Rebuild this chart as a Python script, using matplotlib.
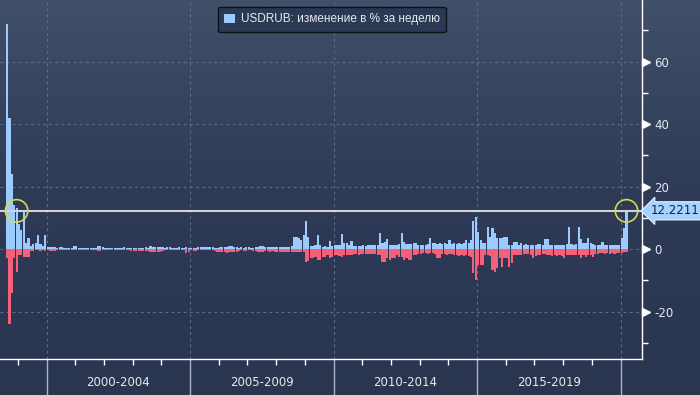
import numpy as np
import matplotlib
matplotlib.use("Agg")
import matplotlib.pyplot as plt
from matplotlib.patches import Patch
from matplotlib.ticker import FixedLocator
import matplotlib.transforms as mtrans
from matplotlib.colors import LinearSegmentedColormap

# ---------------- data (monthly bins, Aug 1998 .. Mar 2020) ----------------
pos_1998_1999 = [72, 42, 24, 14, 13, 8, 6, 12.5, 2, 3.5, 1, 1.5, 2, 4.5, 1.5, 1, 4.5]
neg_1998_1999 = [-3, -24, -14, -3, -7.5, -2, -2, -2.5, -2.5, -2.5, -0.5, -0.5, -0.4, -0.4, -0.5, -0.4, -0.5]

pos_2000_2004 = [0.6, 0.6, 0.5, 0.5, 0.4, 0.5, 0.5, 0.3, 0.4, 0.3, 0.4, 1.0,
                 1.0, 0.4, 0.3, 0.4, 0.3, 0.3, 0.3, 0.4, 0.4, 1.0, 1.0, 0.6,
                 0.3, 0.3, 0.2, 0.3, 0.2, 0.3, 0.3, 0.4, 0.5, 0.4, 0.3, 0.3,
                 0.3, 0.2, 0.3, 0.3, 0.4, 0.5, 0.4, 0.9, 0.8, 0.6, 0.5, 0.6,
                 0.5, 0.4, 0.6, 0.8, 0.4, 0.4, 0.3, 0.5, 0.4, 0.4, 0.5, 0.4]
neg_2000_2004 = [-0.4, -0.6, -0.6, -0.5, -0.3, -0.3, -0.3, -0.4, -0.3, -0.3, -0.2, -0.3,
                 -0.2, -0.2, -0.3, -0.2, -0.2, -0.2, -0.3, -0.2, -0.3, -0.5, -0.5, -0.3,
                 -0.2, -0.2, -0.2, -0.1, -0.2, -0.2, -0.2, -0.2, -0.2, -0.3, -0.3, -0.6,
                 -0.6, -0.5, -0.6, -0.6, -0.5, -0.6, -0.5, -0.9, -0.9, -0.9, -0.8, -0.9,
                 -0.5, -0.3, -0.3, -0.3, -0.3, -0.3, -0.2, -0.3, -0.3, -0.4, -1.2, -0.8]

pos_2005_2009 = [0.4, 0.3, 0.4, 0.6, 0.8, 0.7, 0.5, 0.7, 0.6, 0.5, 0.4, 0.4,
                 0.5, 0.6, 0.5, 0.6, 0.9, 1.0, 0.6, 0.5, 0.4, 0.5, 0.4, 0.7,
                 0.7, 0.4, 0.4, 0.5, 0.5, 1.0, 1.1, 0.7, 0.8, 0.7, 0.8, 0.6,
                 0.8, 0.7, 0.8, 0.7, 0.7, 0.8, 1.0, 3.7, 3.8, 3.5, 2.9, 4.5,
                 8.9, 3.9, 1.0, 1.0, 1.2, 4.5, 1.2, 0.8, 1.0, 0.8, 2.7, 1.0]
neg_2005_2009 = [-0.4, -0.6, -0.6, -0.3, -0.3, -0.3, -0.4, -0.3, -0.4, -0.3, -0.5, -0.9,
                 -1.0, -1.1, -0.9, -1.2, -1.0, -0.8, -1.0, -0.9, -0.5, -0.4, -0.6, -0.6,
                 -0.4, -0.4, -0.5, -0.5, -0.9, -0.9, -0.8, -0.7, -0.7, -0.8, -0.7, -0.8,
                 -0.8, -0.8, -0.9, -0.8, -0.9, -0.8, -0.8, -0.8, -0.8, -0.9, -0.8, -1.0,
                 -4.0, -3.8, -3.0, -3.0, -2.5, -3.5, -3.5, -2.5, -2.7, -2.0, -3.0, -2.7]

pos_2010_2014 = [1.3, 1.3, 1.2, 4.8, 1.8, 1.8, 1.3, 2.6, 1.0, 1.0, 1.1, 1.0,
                 1.2, 1.0, 1.3, 1.3, 1.2, 1.3, 1.4, 5.0, 2.0, 2.3, 3.2, 1.3,
                 1.3, 1.2, 1.4, 1.5, 5.0, 2.3, 1.5, 1.5, 1.6, 1.8, 1.8, 1.3,
                 1.3, 1.2, 1.3, 1.5, 3.6, 1.8, 1.8, 1.6, 1.8, 1.7, 1.8, 1.6,
                 2.9, 1.7, 1.8, 1.7, 1.8, 1.7, 1.8, 2.9, 1.8, 3.0, 8.9, 10.3]
neg_2010_2014 = [-2.0, -1.8, -2.2, -2.4, -2.0, -1.8, -2.0, -1.8, -1.6, -1.5, -2.0, -1.6,
                 -1.5, -1.7, -1.5, -1.6, -1.7, -1.5, -1.8, -2.0, -4.3, -4.0, -3.0, -3.5,
                 -3.0, -3.0, -2.0, -2.4, -2.4, -3.5, -3.0, -3.5, -3.5, -1.9, -1.9, -1.7,
                 -1.5, -1.4, -1.4, -1.5, -1.4, -1.4, -1.5, -3.0, -3.0, -1.7, -1.7, -1.8,
                 -1.7, -1.7, -2.0, -2.0, -2.2, -2.0, -2.2, -2.0, -2.2, -2.5, -7.8, -9.9]

pos_2015_2019 = [5.5, 2.9, 2.0, 2.0, 7.1, 4.0, 6.6, 5.0, 3.4, 3.4, 3.4, 3.7,
                 3.7, 1.3, 1.3, 2.1, 2.1, 1.3, 1.8, 1.2, 1.6, 1.3, 1.2, 1.2,
                 1.3, 1.5, 1.5, 1.3, 3.2, 3.2, 1.3, 1.3, 1.2, 1.3, 1.3, 1.2,
                 1.4, 1.5, 6.9, 1.5, 1.3, 1.5, 6.9, 3.2, 1.8, 1.8, 3.4, 1.8,
                 1.5, 1.3, 1.3, 1.3, 2.3, 1.3, 1.2, 1.3, 1.2, 1.3, 1.2, 1.3]
neg_2015_2019 = [-5.1, -5.1, -5.0, -2.0, -2.0, -2.2, -6.7, -7.2, -6.0, -3.0, -5.6, -3.0,
                 -3.0, -5.6, -4.5, -1.9, -1.9, -1.8, -1.9, -1.7, -1.7, -1.6, -2.0, -3.0,
                 -2.2, -1.9, -1.8, -1.6, -1.7, -1.9, -1.9, -2.2, -2.0, -2.3, -2.0, -2.2,
                 -3.0, -2.0, -1.9, -1.8, -1.9, -1.9, -2.0, -2.8, -1.9, -2.4, -1.8, -1.9,
                 -2.4, -1.5, -1.7, -1.4, -1.3, -1.5, -1.3, -1.5, -1.4, -1.6, -1.3, -1.4]

pos_2020 = [3.4, 6.6, 12.2211]
neg_2020 = [-1.2, -1.0, -1.0]

start_year, start_month = 1998, 8
period_labels = ["2000-2004", "2005-2009", "2010-2014", "2015-2019"]
period_bounds = [2000, 2005, 2010, 2015, 2020]
y_major = [-20, 0, 20, 40, 60]
y_minor = [-30, -10, 10, 30, 50, 70]
legend_label = "USDRUB: изменение в % за неделю"

# ---------------- assemble ----------------
pos = np.array(pos_1998_1999 + pos_2000_2004 + pos_2005_2009 + pos_2010_2014 + pos_2015_2019 + pos_2020)
neg = np.array(neg_1998_1999 + neg_2000_2004 + neg_2005_2009 + neg_2010_2014 + neg_2015_2019 + neg_2020)
n = len(pos)
x = start_year + (start_month - 1) / 12 + (np.arange(n) + 0.5) / 12
last = pos[-1]

POS_C = "#9ccbff"
NEG_C = "#f4607a"
TXT_C = "#e4eaf2"
GRID_C = "#587090"

W, H = 700, 395
fig = plt.figure(figsize=(W / 100, H / 100), dpi=100)

# background gradient
bg = fig.add_axes([0, 0, 1, 1], zorder=-10)
cmap = LinearSegmentedColormap.from_list("bg", ["#2a3550", "#2e3a56", "#414f69"])
grad = np.linspace(0, 1, 256).reshape(-1, 1)
bg.imshow(grad, aspect="auto", cmap=cmap, origin="lower", extent=[0, 1, 0, 1])
bg.axis("off")

ax_left, ax_right, ax_top, ax_bot = 0, 642, 0, 359
ax = fig.add_axes([ax_left / W, (H - ax_bot) / H, (ax_right - ax_left) / W, (ax_bot - ax_top) / H])
ax.patch.set_alpha(0)

ppy = 28.7
ax.set_xlim(2000 - 46.5 / ppy, 2020 + 21.5 / ppy)
ax.set_ylim(-35.2, 79.7)

# grid
for yv in y_major:
    ax.axhline(yv, color=GRID_C, lw=0.8, ls=(0, (2.5, 3)), zorder=1)
for xv in period_bounds:
    ax.axvline(xv, color=GRID_C, lw=0.8, ls=(0, (2.5, 3)), zorder=1)

# bars
bw = 0.9 / 12
ax.bar(x, pos, width=bw, color=POS_C, linewidth=0, zorder=3)
ax.bar(x, neg, width=bw, color=NEG_C, linewidth=0, zorder=3)

# reference line at last value
ax.axhline(last, color="#d2d2d2", lw=1.5, zorder=4)

# circles where the level meets the series
first_idx = next(i for i in range(n - 1) if pos[i] >= last and pos[i + 1] < last)
ax.scatter([x[first_idx], x[-1]], [last, last], s=260, facecolors="none",
           edgecolors="#d8d850", linewidths=1.2, zorder=5, clip_on=False)

# spines
for s in ["top", "left"]:
    ax.spines[s].set_visible(False)
for s in ["right", "bottom"]:
    ax.spines[s].set_color("white")
    ax.spines[s].set_linewidth(1.0)

# y axis on right
ax.yaxis.tick_right()
ax.set_yticks(y_major)
ax.set_yticklabels([str(v) for v in y_major])
ax.yaxis.set_minor_locator(FixedLocator(y_minor))
ax.tick_params(axis="y", which="major", length=0, pad=9, labelcolor=TXT_C, labelsize=8.5)
ax.tick_params(axis="y", which="minor", length=4, width=1, color="white", direction="out")
bt = mtrans.blended_transform_factory(ax.transAxes, ax.transData)
tri_t = mtrans.offset_copy(bt, fig=fig, x=4, y=0, units="dots")
ax.plot([1] * len(y_major), y_major, ls="none", marker=">", markersize=5.5,
        color="white", transform=tri_t, clip_on=False, zorder=6)

# x axis
ax.set_xticks(period_bounds)
ax.set_xticklabels([""] * len(period_bounds))
ax.xaxis.set_minor_locator(FixedLocator(list(range(1999, 2021))))
ax.tick_params(axis="x", which="major", length=0)
ax.tick_params(axis="x", which="minor", length=4, width=1, color="white", direction="out")
xt = mtrans.blended_transform_factory(ax.transData, ax.transAxes)
below = (H - ax_bot) / (ax_bot - ax_top)
for xv in period_bounds:
    ax.plot([xv, xv], [0, -below], color="#aab4c4", lw=1, transform=xt, clip_on=False)
for lab, a, b in zip(period_labels, period_bounds[:-1], period_bounds[1:]):
    ax.text((a + b) / 2, -24 / (ax_bot - ax_top), lab, transform=xt, ha="center", va="center",
            color=TXT_C, fontsize=8.5)

# last value label
lbl_t = mtrans.offset_copy(bt, fig=fig, x=9, y=0, units="dots")
ax.text(1, last, f"{last:.4f}", transform=lbl_t, ha="left", va="center", fontsize=8.5,
        color="#14233a", zorder=7,
        bbox=dict(boxstyle="larrow,pad=0.22", facecolor="#a6d2ff", edgecolor="#e8f2ff", lw=0.8))

# legend
leg = ax.legend(handles=[Patch(facecolor=POS_C, edgecolor="none", label=legend_label)],
                loc="upper center", bbox_to_anchor=(332 / 642, 1 - 7 / 359), frameon=True,
                fancybox=True, prop={"family": "Liberation Sans", "size": 8.5},
                handlelength=0.9, handleheight=0.9,
                handletextpad=0.5, borderpad=0.55, borderaxespad=0)
leg.get_frame().set_facecolor("#2c3953")
leg.get_frame().set_edgecolor("#0c111c")
leg.get_frame().set_alpha(1)
for t in leg.get_texts():
    t.set_color(TXT_C)

fig.savefig("out.png", dpi=100)
